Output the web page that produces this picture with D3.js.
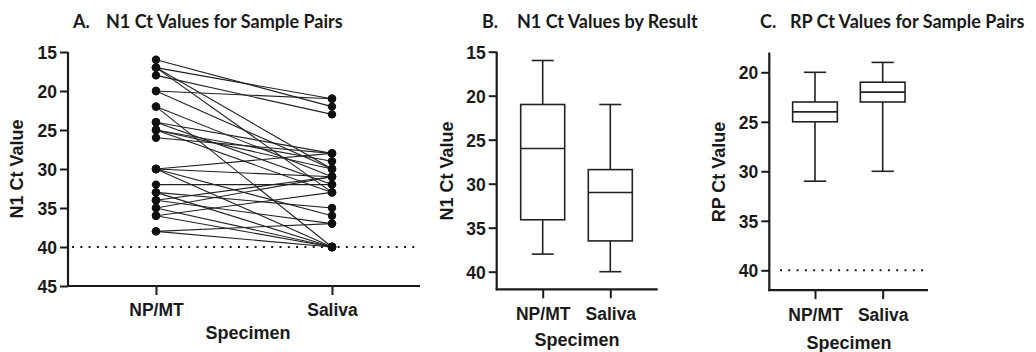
<!DOCTYPE html>
<html>
<head>
<meta charset="utf-8">
<script src="https://cdn.jsdelivr.net/npm/d3@7"></script>
<style>
  html, body { margin: 0; padding: 0; background: #fff; }
  svg { display: block; }
  .tick text { font-family: "Liberation Sans", Arial, sans-serif; font-weight: bold; font-size: 17.5px; fill: #1a1a1a; }
  .axtitle { font-family: "Liberation Sans", Arial, sans-serif; font-weight: bold; font-size: 18px; fill: #1a1a1a; }
  .ptitle { font-family: "Lato", "Open Sans", sans-serif; font-weight: bold; font-size: 18px; fill: #1a1a1a; }
</style>
</head>
<body>
<script>
// ---------- data ----------
const categories = ["NP/MT", "Saliva"];
// Panel A: paired N1 Ct values (NP/MT -> Saliva)
const pairNPMT   = [16, 17, 17, 17, 18, 20, 20, 22, 22, 24, 24, 25, 25, 25, 26, 30, 30, 30, 30, 32, 33, 33, 34, 34, 35, 35, 36, 36, 38, 38];
const pairSaliva = [22, 21, 33, 30, 23, 21, 30, 31, 40, 28, 32, 29, 30, 33, 28, 28, 31, 36, 40, 32, 40, 35, 31, 37, 31, 40, 33, 40, 37, 40];
// Panel B: N1 box plot stats [min, q1, median, q3, max]
const n1Box = { "NP/MT": [16, 21, 26, 34.1, 38], "Saliva": [21, 28.4, 31, 36.5, 40] };
// Panel C: RP box plot stats
const rpBox = { "NP/MT": [20, 23, 24, 25, 31], "Saliva": [19, 21, 22, 23, 30] };
const ticksA = [15, 20, 25, 30, 35, 40, 45];
const ticksB = [15, 20, 25, 30, 35, 40];
const ticksC = [20, 25, 30, 35, 40];
const cutoff = 40;

const W = 1036, H = 352;
const svg = d3.select("body").append("svg").attr("width", W).attr("height", H);
const ink = "#1a1a1a";

function axes(g, y, x, x0, x1, yTop, yBot, ticks) {
  const ya = g.append("g").attr("transform", `translate(${x0},0)`)
    .call(d3.axisLeft(y).tickValues(ticks).tickSize(8).tickPadding(3).tickSizeOuter(0));
  ya.select(".domain").remove();
  ya.selectAll(".tick line").attr("stroke", ink).attr("stroke-width", 2);
  ya.selectAll(".tick text").attr("dy", "0.36em");
  g.append("line").attr("x1", x0).attr("x2", x0).attr("y1", yTop).attr("y2", yBot + 1)
    .attr("stroke", ink).attr("stroke-width", 2.2);
  g.append("line").attr("x1", x0 - 1).attr("x2", x1).attr("y1", yBot).attr("y2", yBot)
    .attr("stroke", ink).attr("stroke-width", 2.2);
  const xa = g.append("g").attr("transform", `translate(0,${yBot})`)
    .call(d3.axisBottom(x).tickSize(9).tickPadding(9).tickSizeOuter(0));
  xa.select(".domain").remove();
  xa.selectAll(".tick line").attr("stroke", ink).attr("stroke-width", 2);
}

function titles(g, letter, lx, rest, rx, ylabel, ylx, yly, xlabelX, xlabelY) {
  const t = g.append("text").attr("class", "ptitle").attr("y", 28);
  t.append("tspan").attr("x", lx).text(letter);
  t.append("tspan").attr("x", rx).text(rest);
  g.append("text").attr("class", "axtitle").attr("text-anchor", "middle")
    .attr("transform", `translate(${ylx},${yly}) rotate(-90)`).attr("dy", "0.35em").text(ylabel);
  g.append("text").attr("class", "axtitle").attr("text-anchor", "middle")
    .attr("x", xlabelX).attr("y", xlabelY).text("Specimen");
}

function dotted(g, y, xa, xb) {
  g.append("line").attr("x1", xa).attr("x2", xb).attr("y1", y(cutoff)).attr("y2", y(cutoff))
    .attr("stroke", ink).attr("stroke-width", 2).attr("stroke-dasharray", "2,6.3");
}

// ---------- Panel A ----------
{
  const g = svg.append("g");
  const y = d3.scaleLinear().domain([15, 45]).range([52, 286]);
  const x = d3.scaleBand().domain(categories).range([68, 420]).padding(0);
  const cx = c => x(c) + x.bandwidth() / 2;
  dotted(g, y, 72, 420);
  const pairs = pairNPMT.map((v, i) => [v, pairSaliva[i]]);
  g.selectAll(".pl").data(pairs).join("line")
    .attr("x1", cx("NP/MT")).attr("x2", cx("Saliva"))
    .attr("y1", d => y(d[0])).attr("y2", d => y(d[1]))
    .attr("stroke", "#222").attr("stroke-width", 1.1);
  g.selectAll(".dl").data(pairNPMT).join("circle")
    .attr("cx", cx("NP/MT")).attr("cy", d => y(d)).attr("r", 4.2).attr("fill", "#111");
  g.selectAll(".dr").data(pairSaliva).join("circle")
    .attr("cx", cx("Saliva")).attr("cy", d => y(d)).attr("r", 4.2).attr("fill", "#111");
  const xs = d3.scalePoint().domain(categories).range([cx("NP/MT"), cx("Saliva")]);
  axes(g, y, xs, 68, 420, 52, 286, ticksA);
  titles(g, "A.", 73, "N1 Ct Values for Sample Pairs", 106, "N1 Ct Value", 17, 169, 248, 339);
}

function boxPanel(g, y, x, stats, bw) {
  categories.forEach(c => {
    const [mn, q1, md, q3, mx] = stats[c];
    const xc = x(c);
    const line = (x1, y1, x2, y2) => g.append("line").attr("x1", x1).attr("y1", y1).attr("x2", x2).attr("y2", y2)
      .attr("stroke", "#222").attr("stroke-width", 1.6);
    line(xc, y(mn), xc, y(q1));
    line(xc, y(q3), xc, y(mx));
    line(xc - bw / 4, y(mn), xc + bw / 4, y(mn));
    line(xc - bw / 4, y(mx), xc + bw / 4, y(mx));
    g.append("rect").attr("x", xc - bw / 2).attr("y", y(q1)).attr("width", bw)
      .attr("height", y(q3) - y(q1)).attr("fill", "#fff").attr("stroke", "#222").attr("stroke-width", 1.6);
    line(xc - bw / 2, y(md), xc + bw / 2, y(md));
  });
}

// ---------- Panel B ----------
{
  const g = svg.append("g");
  const y = d3.scaleLinear().domain([15, 42]).range([51.7, 289.3]);
  const x = d3.scalePoint().domain(categories).range([542.7, 610.3]);
  boxPanel(g, y, x, n1Box, 44);
  axes(g, y, x, 496.7, 657.7, 51.7, 289.3, ticksB);
  titles(g, "B.", 482, "N1 Ct Values by Result", 517, "N1 Ct Value", 447, 171, 577, 346);
}

// ---------- Panel C ----------
{
  const g = svg.append("g");
  const y = d3.scaleLinear().domain([18, 42]).range([52.5, 290.1]);
  const x = d3.scalePoint().domain(categories).range([815, 882.7]);
  dotted(g, y, 780, 928);
  boxPanel(g, y, x, rpBox, 44.7);
  axes(g, y, x, 769.3, 928, 52.5, 290.1, ticksC);
  titles(g, "C.", 760, "RP Ct Values for Sample Pairs", 790, "RP Ct Value", 719, 172, 849, 349);
}
</script>
</body>
</html>
